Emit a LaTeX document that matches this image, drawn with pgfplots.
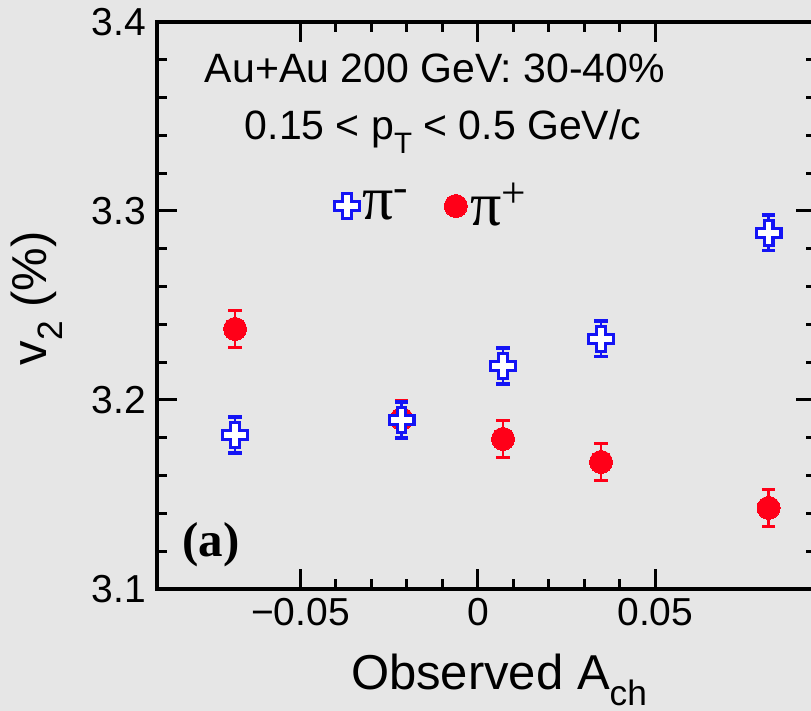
\documentclass[border=0pt]{standalone}
\usepackage{pgfplots}
\pgfplotsset{compat=1.18}
\usepackage{fontspec}
\setmainfont{Liberation Sans}
\newfontfamily\serif{Liberation Serif}
\definecolor{bgcol}{RGB}{230,230,230}
\definecolor{mblue}{RGB}{20,20,245}
\definecolor{mred}{RGB}{255,0,24}
\newcommand\sub[1]{\raisebox{-0.32em}{\scalebox{0.72}{#1}}}
\pgfdeclareplotmark{ocross}{%
  \pgfpathmoveto{\pgfqpoint{0.35\pgfplotmarksize}{\pgfplotmarksize}}%
  \pgfpathlineto{\pgfqpoint{0.35\pgfplotmarksize}{0.35\pgfplotmarksize}}%
  \pgfpathlineto{\pgfqpoint{\pgfplotmarksize}{0.35\pgfplotmarksize}}%
  \pgfpathlineto{\pgfqpoint{\pgfplotmarksize}{-0.35\pgfplotmarksize}}%
  \pgfpathlineto{\pgfqpoint{0.35\pgfplotmarksize}{-0.35\pgfplotmarksize}}%
  \pgfpathlineto{\pgfqpoint{0.35\pgfplotmarksize}{-\pgfplotmarksize}}%
  \pgfpathlineto{\pgfqpoint{-0.35\pgfplotmarksize}{-\pgfplotmarksize}}%
  \pgfpathlineto{\pgfqpoint{-0.35\pgfplotmarksize}{-0.35\pgfplotmarksize}}%
  \pgfpathlineto{\pgfqpoint{-\pgfplotmarksize}{-0.35\pgfplotmarksize}}%
  \pgfpathlineto{\pgfqpoint{-\pgfplotmarksize}{0.35\pgfplotmarksize}}%
  \pgfpathlineto{\pgfqpoint{-0.35\pgfplotmarksize}{0.35\pgfplotmarksize}}%
  \pgfpathlineto{\pgfqpoint{-0.35\pgfplotmarksize}{\pgfplotmarksize}}%
  \pgfpathclose
  \pgfusepathqfillstroke
}
\begin{document}
\begin{tikzpicture}
\fill[bgcol] (-78.5pt,-61pt) rectangle (327pt,294.5pt);
\begin{axis}[
  scale only axis,
  width=329.75pt, height=283.5pt,
  xmin=-0.0904, xmax=0.0954,
  ymin=3.1, ymax=3.4,
  scaled x ticks=false, scaled y ticks=false,
  axis line style={line width=1.6pt},
  tick style={line width=1.5pt, black},
  tick align=inside,
  major tick length=10pt,
  minor tick length=5pt,
  xtick={-0.05,0,0.05},
  xticklabels={−0.05,0,0.05},
  minor x tick num=4,
  ytick={3.1,3.2,3.3,3.4},
  yticklabels={3.1,3.2,3.3,3.4},
  minor y tick num=4,
  xtick pos=both, ytick pos=both,
  ticklabel style={font=\fontsize{19.5}{20}\selectfont},
  yticklabel style={xshift=-2pt},
  xticklabel style={yshift=-1pt},
  xlabel={Observed A\sub{ch}},
  ylabel={v\sub{2} (\%)},
  label style={font=\fontsize{24.5}{26}\selectfont},
  xlabel style={at={(axis description cs:0.5186,-0.1781)}, anchor=base},
  ylabel style={at={(axis description cs:-0.182,0.513)}, anchor=center},
  legend style={at={(axis description cs:0.269,0.6755)}, anchor=west,
    draw=none, fill=none, inner sep=0pt,
    nodes={inner sep=1.5pt},
    /tikz/every even column/.append style={column sep=16pt},
    font=\serif\fontsize{31}{31}\selectfont},
  legend columns=2,
  legend image code/.code={\draw[#1] plot coordinates {(0pt,0pt)};},
]
\addlegendimage{only marks, mark=ocross, mark size=6.2pt, mark options={line width=1.6pt, fill=white, draw=mblue}}
\addlegendentry{π\textsuperscript{-}}
\addlegendimage{only marks, mark=*, mark size=5.75pt, mark options={fill=mred, draw=mred, line width=0pt}}
\addlegendentry{π\textsuperscript{+}}

\addplot[only marks, mark=*, mark size=5.75pt, mark options={fill=mred, draw=mred, line width=0pt},
  error bars/.cd, y dir=both, y explicit,
  error bar style={line width=1.2pt, mred},
  error mark options={rotate=90, mark size=3.3pt, line width=1.6pt, mred}]
  coordinates {
  (-0.0684,3.2376) +- (0,0.0098)
  (-0.0215,3.1900) +- (0,0.0098)
  (0.0071,3.1794) +- (0,0.0098)
  (0.0347,3.1672) +- (0,0.0098)
  (0.0819,3.1429) +- (0,0.0098)
  };
\addplot[only marks, mark=ocross, mark size=6.2pt, mark options={line width=1.6pt, fill=white, draw=mblue},
  error bars/.cd, y dir=both, y explicit,
  error bar style={line width=1.2pt, mblue},
  error mark options={rotate=90, mark size=3.3pt, line width=1.6pt, mblue}]
  coordinates {
  (-0.0684,3.1815) +- (0,0.0095)
  (-0.0215,3.1894) +- (0,0.0095)
  (0.0071,3.2180) +- (0,0.0095)
  (0.0347,3.2323) +- (0,0.0095)
  (0.0819,3.2884) +- (0,0.0095)
  };
\node[anchor=base, font=\fontsize{20.5}{22}\selectfont] at (rel axis cs:0.4215,0.894) {Au+Au 200 GeV: 30-40\%};
\node[anchor=base, font=\fontsize{20.5}{22}\selectfont] at (rel axis cs:0.4337,0.7919) {0.15 < p\sub{T} < 0.5 GeV/c};
\node[font=\serif\bfseries\fontsize{24.5}{26}\selectfont] at (rel axis cs:0.0819,0.0776) {(a)};
\end{axis}
\pgfresetboundingbox
\path (-78.5pt,-61pt) rectangle (327pt,294.5pt);
\end{tikzpicture}
\end{document}
